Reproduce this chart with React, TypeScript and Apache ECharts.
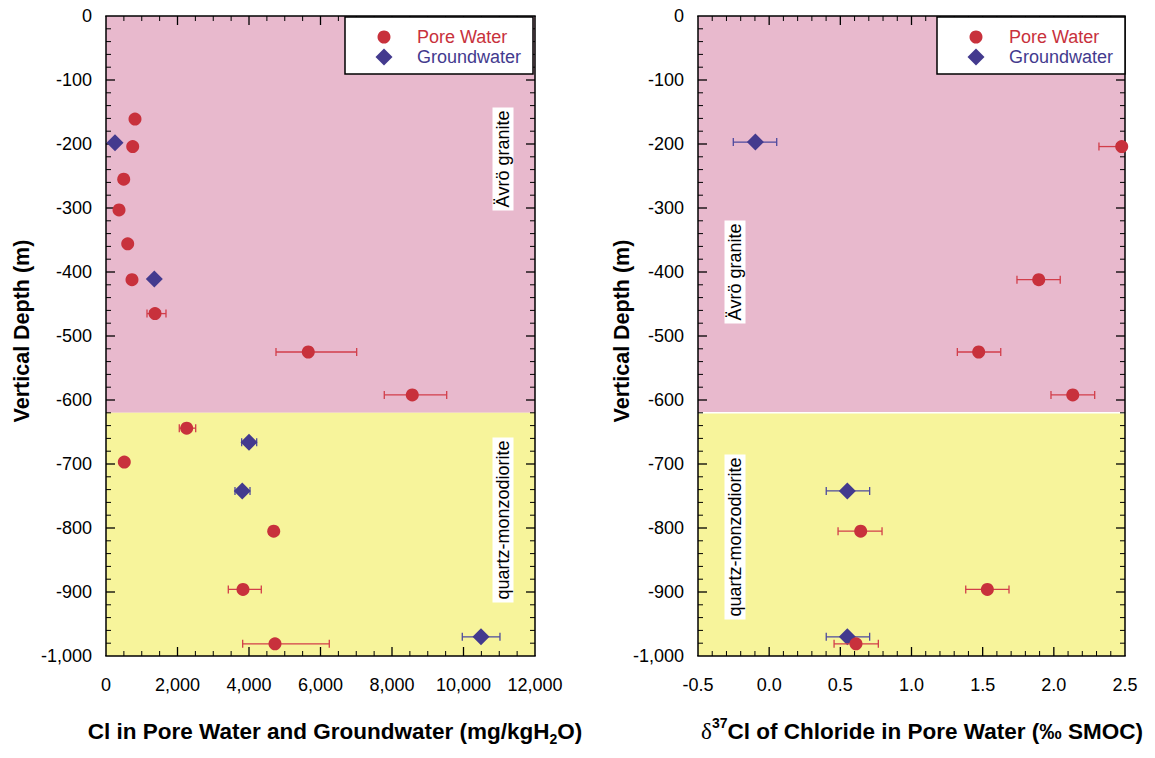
import React, { useEffect, useRef } from "react";
import * as echarts from "echarts";

// ---- Cl concentration panel (mg/kgH2O) ----
const poreDepth = [-161, -204, -255, -303, -356, -412, -465, -525, -592, -644, -697, -805, -896, -981];
const poreCl = [811, 747, 495, 364, 607, 727, 1371, 5658, 8567, 2257, 512, 4691, 3832, 4727];
const poreClLow: (number | null)[] = [null, null, null, null, null, null, 1147, 4755, 7784, 2050, null, null, 3421, 3823];
const poreClHigh: (number | null)[] = [null, null, null, null, null, null, 1678, 7012, 9530, 2509, null, null, 4344, 6246];

const gwDepth = [-198, -411, -666, -742, -970];
const gwCl = [252, 1351, 4000, 3812, 10489];
const gwClLow: (number | null)[] = [null, null, 3795, 3608, 9966];
const gwClHigh: (number | null)[] = [null, null, 4215, 4028, 11020];

// ---- δ37Cl panel (‰ SMOC) ----
const poreIsoDepth = [-204, -412, -525, -592, -805, -896, -981];
const poreIso = [2.477, 1.894, 1.472, 2.133, 0.643, 1.533, 0.61];
const poreIsoLow = [2.317, 1.741, 1.322, 1.98, 0.484, 1.381, 0.456];
const poreIsoHigh = [2.637, 2.045, 1.627, 2.287, 0.793, 1.685, 0.767];

const gwIsoDepth = [-197, -742, -970];
const gwIso = [-0.097, 0.549, 0.549];
const gwIsoLow = [-0.252, 0.401, 0.401];
const gwIsoHigh = [0.053, 0.706, 0.706];

// Lithology units: [top, bottom, colour index] depth (m)
const graniteTop = 0;
const contactDepth = -620;
const sectionBottom = -1000;
const units = [
  [graniteTop, contactDepth, 0],
  [contactDepth, sectionBottom, 1],
];

const depthTicks = { min: -1000, max: 0, interval: 100, minor: 5 };
const clTicks = { min: 0, max: 12000, interval: 2000, minor: 4 };
const isoTicks = { min: -0.5, max: 2.5, interval: 0.5, minor: 5 };

const RED = "#c8313c";
const BLUE = "#433a8e";
const RED_BAR = "#d23e4a";
const BLUE_BAR = "#4d4a9e";
const UNIT_COLORS = ["#e8b9cd", "#f7f49b"];
const FONT = "'Liberation Sans', Arial, Helvetica, sans-serif";

const GRID_CL = { left: 106, top: 16, width: 429, height: 640 };
const GRID_ISO = { left: 698, top: 16, width: 427, height: 640 };

const pts = (xs: number[], ys: number[]) => xs.map((x, i) => [x, ys[i]]);
const bars = (xs: number[], ys: number[], lo: (number | null)[], hi: (number | null)[]) =>
  xs
    .map((x, i) => (lo[i] == null || hi[i] == null ? null : [x, ys[i], lo[i], hi[i]]))
    .filter((d) => d !== null) as number[][];

function errorBarRenderer(color: string) {
  return (params: any, api: any) => {
    const cs = params.coordSys;
    const y = api.value(1);
    const a = api.coord([api.value(2), y]);
    const b = api.coord([api.value(3), y]);
    const left = cs.x;
    const right = cs.x + cs.width;
    const h = 4;
    const style = { stroke: color, lineWidth: 1.3 };
    const x1 = Math.max(a[0], left);
    const x2 = Math.min(b[0], right);
    const children: any[] = [
      { type: "line", shape: { x1, y1: a[1], x2, y2: b[1] }, style },
    ];
    if (a[0] >= left) children.push({ type: "line", shape: { x1: a[0], y1: a[1] - h, x2: a[0], y2: a[1] + h }, style });
    if (b[0] <= right) children.push({ type: "line", shape: { x1: b[0], y1: b[1] - h, x2: b[0], y2: b[1] + h }, style });
    return { type: "group", children };
  };
}

// Frame with inward major/minor ticks on all four sides, placed through the axis scales
function frameChildren(cs: any, api: any, xr: any, yr: any) {
  const L = cs.x;
  const R = cs.x + cs.width;
  const T = cs.y;
  const B = cs.y + cs.height;
  const out: any[] = [];
  const seg = (x1: number, y1: number, x2: number, y2: number, w: number) =>
    out.push({ type: "line", shape: { x1, y1, x2, y2 }, style: { stroke: "#000000", lineWidth: w } });
  const xStep = xr.interval / xr.minor;
  const nx = Math.round((xr.max - xr.min) / xStep);
  for (let i = 1; i < nx; i++) {
    const x = api.coord([xr.min + i * xStep, yr.min])[0];
    const major = i % xr.minor === 0;
    const len = major ? 9 : 5;
    seg(x, B, x, B - len, major ? 1.3 : 1);
    seg(x, T, x, T + len, major ? 1.3 : 1);
  }
  const yStep = yr.interval / yr.minor;
  const ny = Math.round((yr.max - yr.min) / yStep);
  for (let i = 1; i < ny; i++) {
    const y = api.coord([xr.min, yr.min + i * yStep])[1];
    const major = i % yr.minor === 0;
    const len = major ? 9 : 5;
    seg(L, y, L + len, y, major ? 1.3 : 1);
    seg(R, y, R - len, y, major ? 1.3 : 1);
  }
  seg(L - 0.75, T, R + 0.75, T, 1.5);
  seg(L - 0.75, B, R + 0.75, B, 1.5);
  seg(L, T, L, B, 1.5);
  seg(R, T, R, B, 1.5);
  return out;
}

// Horizontal lithology bands across the panel; the last band also carries the frame
function unitRenderer(whiteContact: boolean, xr: any, yr: any) {
  return (params: any, api: any) => {
    const cs = params.coordSys;
    const top = api.coord([xr.min, api.value(0)])[1];
    const bottom = api.coord([xr.min, api.value(1)])[1];
    const children: any[] = [
      {
        type: "rect",
        shape: { x: cs.x, y: top, width: cs.width, height: bottom - top },
        style: { fill: UNIT_COLORS[api.value(2)] },
      },
    ];
    if (api.value(2) === 1) {
      if (whiteContact) {
        children.push({
          type: "line",
          shape: { x1: cs.x, y1: top, x2: cs.x + cs.width, y2: top },
          style: { stroke: "#fff", lineWidth: 1.5 },
        });
      }
      children.push(...frameChildren(cs, api, xr, yr));
    }
    return { type: "group", children };
  };
}

const tickLabel = { color: "#000", fontSize: 18, fontFamily: FONT };

function valueAxis(range: any, gridIndex: number, position: string, opts: any) {
  return {
    type: "value",
    gridIndex,
    position,
    min: range.min,
    max: range.max,
    interval: range.interval,
    axisLine: { show: false, onZero: false },
    axisTick: { show: false },
    minorTick: { show: false },
    splitLine: { show: false },
    minorSplitLine: { show: false },
    axisLabel: { show: true, margin: opts.margin, formatter: opts.formatter, ...tickLabel },
  };
}

const depthFmt = (v: number) => v.toLocaleString("en-US");
const clFmt = (v: number) => v.toLocaleString("en-US");
const isoFmt = (v: number) => v.toFixed(1);

function bandSeries(axisIndex: number, whiteContact: boolean, xr: any) {
  return {
    name: "Lithology",
    type: "custom",
    xAxisIndex: axisIndex,
    yAxisIndex: axisIndex,
    silent: true,
    clip: false,
    z: 1,
    renderItem: unitRenderer(whiteContact, xr, depthTicks),
    encode: { y: [0, 1] },
    data: units,
  };
}

function legend(x: number) {
  const z = 60;
  return {
    type: "group",
    x,
    y: 17,
    z,
    children: [
      { type: "rect", z, shape: { x: 0, y: 0, width: 188, height: 57 }, style: { fill: "#fff", stroke: "#000", lineWidth: 1.5 } },
      { type: "circle", z: z + 1, shape: { cx: 39, cy: 20, r: 6.5 }, style: { fill: RED } },
      {
        type: "polygon",
        z: z + 1,
        shape: { points: [[39, 31.5], [47.5, 40], [39, 48.5], [30.5, 40]] },
        style: { fill: BLUE },
      },
      { type: "text", z: z + 1, x: 72, y: 20, style: { text: "Pore Water", fill: RED, font: `18px ${FONT}`, textVerticalAlign: "middle" } },
      { type: "text", z: z + 1, x: 72, y: 40, style: { text: "Groundwater", fill: BLUE, font: `18px ${FONT}`, textVerticalAlign: "middle" } },
    ],
  };
}

function rockLabel(text: string, x: number, y: number) {
  return {
    type: "text",
    x,
    y,
    rotation: Math.PI / 2,
    z: 50,
    style: {
      text,
      font: `18px ${FONT}`,
      fill: "#000",
      textAlign: "center",
      textVerticalAlign: "middle",
      backgroundColor: "#fff",
      padding: [2, 3, 1, 3],
    },
  };
}

function yTitle(x: number) {
  return {
    type: "text",
    x,
    y: 331,
    rotation: Math.PI / 2,
    style: {
      text: "Vertical Depth (m)",
      font: `bold 21.5px ${FONT}`,
      fill: "#000",
      textAlign: "center",
      textVerticalAlign: "middle",
    },
  };
}

export default function App() {
  const ref = useRef<HTMLDivElement>(null);

  useEffect(() => {
    if (!ref.current) return;
    const chart = echarts.init(ref.current, undefined, { renderer: "svg" });

    const titleBold = { fontFamily: FONT, fontWeight: "bold", fontSize: 22.5, color: "#000", lineHeight: 30 };

    const option: any = {
      animation: false,
      backgroundColor: "#fff",
      grid: [GRID_CL, GRID_ISO],
      xAxis: [
        valueAxis(clTicks, 0, "bottom", { margin: 20, formatter: clFmt }),
        valueAxis(isoTicks, 1, "bottom", { margin: 20, formatter: isoFmt }),
      ],
      yAxis: [
        valueAxis(depthTicks, 0, "left", { margin: 14, formatter: depthFmt }),
        valueAxis(depthTicks, 1, "left", { margin: 14, formatter: depthFmt }),
      ],
      series: [
        bandSeries(0, false, clTicks),
        bandSeries(1, true, isoTicks),
        // Cl panel
        {
          name: "Groundwater error",
          type: "custom",
          xAxisIndex: 0,
          yAxisIndex: 0,
          z: 3,
          renderItem: errorBarRenderer(BLUE_BAR),
          encode: { x: [2, 3], y: 1 },
          data: bars(gwCl, gwDepth, gwClLow, gwClHigh),
        },
        {
          name: "Pore Water error",
          type: "custom",
          xAxisIndex: 0,
          yAxisIndex: 0,
          z: 3,
          renderItem: errorBarRenderer(RED_BAR),
          encode: { x: [2, 3], y: 1 },
          data: bars(poreCl, poreDepth, poreClLow, poreClHigh),
        },
        {
          name: "Groundwater",
          type: "scatter",
          xAxisIndex: 0,
          yAxisIndex: 0,
          z: 4,
          symbol: "diamond",
          symbolSize: 17,
          itemStyle: { color: BLUE, opacity: 1 },
          data: pts(gwCl, gwDepth),
        },
        {
          name: "Pore Water",
          type: "scatter",
          xAxisIndex: 0,
          yAxisIndex: 0,
          z: 5,
          symbol: "circle",
          symbolSize: 13,
          itemStyle: { color: RED, opacity: 1 },
          data: pts(poreCl, poreDepth),
        },
        // δ37Cl panel
        {
          name: "Groundwater δ37Cl error",
          type: "custom",
          xAxisIndex: 1,
          yAxisIndex: 1,
          z: 3,
          renderItem: errorBarRenderer(BLUE_BAR),
          encode: { x: [2, 3], y: 1 },
          data: bars(gwIso, gwIsoDepth, gwIsoLow, gwIsoHigh),
        },
        {
          name: "Groundwater δ37Cl",
          type: "scatter",
          xAxisIndex: 1,
          yAxisIndex: 1,
          z: 4,
          symbol: "diamond",
          symbolSize: 17,
          itemStyle: { color: BLUE, opacity: 1 },
          data: pts(gwIso, gwIsoDepth),
        },
        {
          name: "Pore Water δ37Cl error",
          type: "custom",
          xAxisIndex: 1,
          yAxisIndex: 1,
          z: 5,
          renderItem: errorBarRenderer(RED_BAR),
          encode: { x: [2, 3], y: 1 },
          data: bars(poreIso, poreIsoDepth, poreIsoLow, poreIsoHigh),
        },
        {
          name: "Pore Water δ37Cl",
          type: "scatter",
          xAxisIndex: 1,
          yAxisIndex: 1,
          z: 6,
          symbol: "circle",
          symbolSize: 13,
          itemStyle: { color: RED, opacity: 1 },
          data: pts(poreIso, poreIsoDepth),
        },
      ],
      graphic: [
        legend(345),
        legend(937),
        rockLabel("Ävrö granite", 503, 159),
        rockLabel("quartz-monzodiorite", 503, 520),
        rockLabel("Ävrö granite", 735, 272),
        rockLabel("quartz-monzodiorite", 735, 537),
        yTitle(22),
        yTitle(622),
        {
          type: "text",
          x: 335,
          y: 731,
          style: {
            text: "{b|Cl in Pore Water and Groundwater (mg/kgH}{s|2}{b|O)}",
            textAlign: "center",
            textVerticalAlign: "middle",
            rich: {
              b: titleBold,
              s: { fontFamily: FONT, fontWeight: "bold", fontSize: 14, color: "#000", lineHeight: 14, verticalAlign: "bottom" },
            },
          },
        },
        {
          type: "text",
          x: 922,
          y: 731,
          style: {
            text: "{d|δ}{p|37}{b|Cl of Chloride in Pore Water (‰ SMOC)}",
            textAlign: "center",
            textVerticalAlign: "middle",
            rich: {
              d: { fontFamily: "'Liberation Serif', 'Times New Roman', serif", fontSize: 23, color: "#000", lineHeight: 30 },
              p: { fontFamily: FONT, fontWeight: "bold", fontSize: 14, color: "#000", lineHeight: 14, verticalAlign: "top" },
              b: titleBold,
            },
          },
        },
      ],
    };

    chart.setOption(option);
    return () => chart.dispose();
  }, []);

  return (
    <div
      ref={ref}
      style={{ position: "fixed", left: 0, top: 0, width: 1155, height: 758, background: "#fff" }}
    />
  );
}
